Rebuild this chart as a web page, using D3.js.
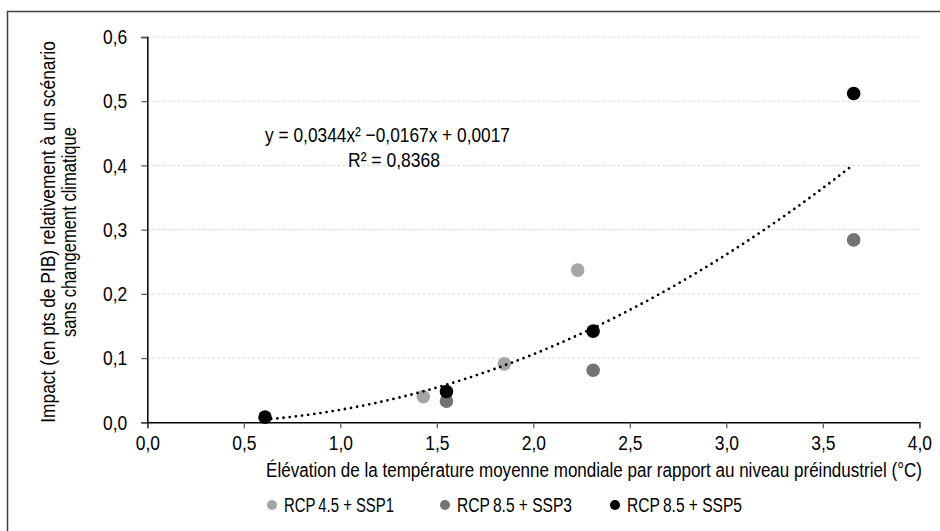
<!DOCTYPE html>
<html>
<head>
<meta charset="utf-8">
<script src="https://d3js.org/d3.v7.min.js"></script>
<style>
  body { margin: 0; background: #fff; }
  svg text { font-family: "Liberation Sans Narrow", "Arial Narrow", "Liberation Sans", Arial, sans-serif; fill: #000; }
</style>
</head>
<body>
<div id="chart"></div>
<script>
// series values: [temperature rise °C, impact pts de PIB]
var rcp45ssp1 = [[1.43, 0.040], [1.85, 0.091], [2.23, 0.237]];
var rcp85ssp3 = [[1.55, 0.033], [2.31, 0.081], [3.66, 0.284]];
var rcp85ssp5 = [[0.61, 0.008], [1.55, 0.048], [2.31, 0.142], [3.66, 0.512]];

var seriesNames = ["RCP\u20094.5 + SSP1", "RCP\u20098.5 + SSP3", "RCP\u20098.5 + SSP5"];
var seriesColors = ["#a6a6a6", "#737373", "#000000"];

var xTicks = [0, 0.5, 1, 1.5, 2, 2.5, 3, 3.5, 4];
var yTicks = [0, 0.1, 0.2, 0.3, 0.4, 0.5, 0.6];

// polynomial trend shown on the chart: a x^2 + b x + c
var trendCoefs = [0.0344, -0.0167, 0.0017];
var trendRange = [0.61, 3.66];

var width = 940, height = 531;
var fontSize = "21px";
// the reference uses a condensed face; squeeze the regular one to match
var squeeze = 0.83;

var svg = d3.select("#chart")
  .append("svg")
  .attr("width", width)
  .attr("height", height);

// outer frame (runs off the right/bottom of the picture)
svg.append("rect")
  .attr("x", 7.5)
  .attr("y", 11.5)
  .attr("width", 960)
  .attr("height", 560)
  .attr("fill", "none")
  .attr("stroke", "#404040")
  .attr("stroke-width", 1.5);

var x = d3.scaleLinear().domain([0, 4]).range([147.3, 919.3]);
var y = d3.scaleLinear().domain([0, 0.6]).range([422.3, 37]);

var frFmt = function(d) { return d3.format(".1f")(d).replace(".", ","); };

// gridlines
svg.append("g")
  .selectAll("line")
  .data(yTicks.slice(1))
  .enter()
  .append("line")
  .attr("x1", x(0))
  .attr("x2", x(4))
  .attr("y1", function(d) { return y(d); })
  .attr("y2", function(d) { return y(d); })
  .attr("stroke", "#d9d9d9")
  .attr("stroke-width", 1)
  .attr("stroke-dasharray", "3,2");

// axes
var xAxis = svg.append("g")
  .attr("transform", "translate(0," + y(0) + ")")
  .call(d3.axisBottom(x).tickValues(xTicks).tickFormat(frFmt).tickSize(6).tickPadding(7));

var yAxis = svg.append("g")
  .attr("transform", "translate(" + x(0) + ",0)")
  .call(d3.axisLeft(y).tickValues(yTicks).tickFormat(frFmt).tickSize(6));

[xAxis, yAxis].forEach(function(ax) {
  ax.select(".domain").attr("stroke", "#000").attr("stroke-width", 1.5);
  ax.selectAll(".tick line").attr("stroke", "#555").attr("stroke-width", 1.2);
  ax.selectAll(".tick text")
    .style("font-size", fontSize)
    .attr("fill", "#000")
    .attr("transform", "scale(" + squeeze + ",1)");
});
yAxis.selectAll(".tick text").attr("x", -20 / squeeze);

// trend line
var trendPts = d3.range(0, 61).map(function(i) {
  var t = trendRange[0] + (trendRange[1] - trendRange[0]) * i / 60;
  return [t, trendCoefs[0] * t * t + trendCoefs[1] * t + trendCoefs[2]];
});

var line = d3.line()
  .x(function(d) { return x(d[0]); })
  .y(function(d) { return y(d[1]); });

// points
[rcp45ssp1, rcp85ssp3, rcp85ssp5].forEach(function(series, i) {
  svg.append("g")
    .selectAll("circle")
    .data(series)
    .enter()
    .append("circle")
    .attr("cx", function(d) { return x(d[0]); })
    .attr("cy", function(d) { return y(d[1]); })
    .attr("r", 6.8)
    .attr("fill", seriesColors[i]);
});

svg.append("path")
  .datum(trendPts)
  .attr("fill", "none")
  .attr("stroke", "#000")
  .attr("stroke-width", 2.8)
  .attr("stroke-linecap", "round")
  .attr("stroke-dasharray", "0,6.2")
  .attr("d", line);

// text helper: measure, then squeeze horizontally to the width seen in the reference
function label(parent, tx, ty, len, str, anchor) {
  var g = parent.append("g");
  var t = g.append("text")
    .attr("text-anchor", anchor || "middle")
    .style("font-size", fontSize)
    .text(str);
  var k = len / t.node().getComputedTextLength();
  g.attr("transform", "translate(" + tx + "," + ty + ") scale(" + k + ",1)");
  return t;
}

// equation labels
label(svg, 387.5, 142, 245, "y = 0,0344x\u00b2 \u22120,0167x + 0,0017");
label(svg, 394, 167, 92, "R\u00b2 = 0,8368");

// axis titles
label(svg, 594, 477, 656, "\u00c9l\u00e9vation de la temp\u00e9rature moyenne mondiale par rapport au niveau pr\u00e9industriel (\u00b0C)");

var yTitle = svg.append("g")
  .attr("transform", "translate(0,232) rotate(-90)");
label(yTitle, 0, 55, 382, "Impact (en pts de PIB) relativement \u00e0 un sc\u00e9nario");
label(yTitle, 0, 76, 210, "sans changement climatique");

// legend
var legendX = [272, 445, 615];
var legendLen = [110, 115, 115];

seriesNames.forEach(function(name, i) {
  var g = svg.append("g")
    .attr("class", "legend")
    .attr("transform", "translate(" + legendX[i] + ",505)");
  g.append("circle")
    .attr("r", 5)
    .attr("fill", seriesColors[i]);
  label(g, 12, 7, legendLen[i], name, "start");
});
</script>
</body>
</html>
